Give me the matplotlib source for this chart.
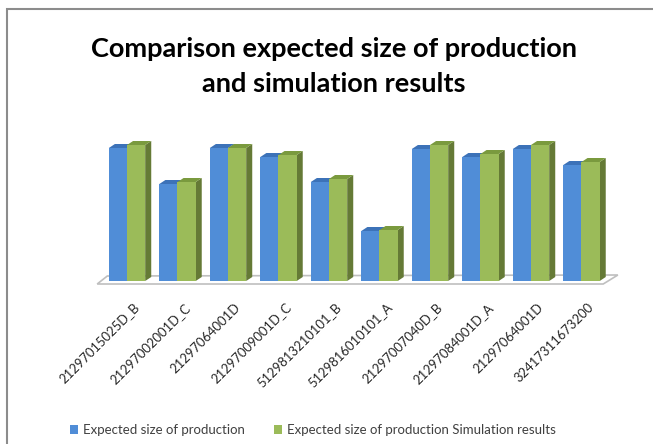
import numpy as np
import matplotlib.pyplot as plt
from matplotlib.patches import Polygon, Rectangle, Patch

plt.rcParams['font.family'] = ['Lato', 'DejaVu Sans']

# Datos por referencia de producto
referencias = ['21297015025D_B', '21297002001D_C', '21297064001D', '21297009001D_C',
               '5129813210101_B', '5129816010101_A', '21297007040D_B', '21297084001D_A',
               '21297064001D', '32417311673200']
esperado = [133, 97, 133, 124, 99, 50, 132, 124, 132, 116]
simulado = [136, 99, 133, 126, 102, 51, 136, 127, 136, 119]

series = ['Expected size of production', 'Expected size of production Simulation results']

W, H = 653, 444
fig = plt.figure(figsize=(W / 100, H / 100), dpi=100)

# marco gris del gráfico
fig.add_artist(Rectangle((7 / W, -0.05), 1.1, (H - 9) / H + 0.05, transform=fig.transFigure,
                         fill=False, edgecolor='#8c8c8c', linewidth=1.5))

# ejes: 1 unidad x = 50.5 px, 1 unidad y = 1 px
x_min, x_max = -0.8, 9.9
y_min, y_max = -40, 160
ax_left = 127 + 50.5 * x_min
ax_width = 50.5 * (x_max - x_min)
ax_bottom = (H - 281) + y_min
ax = fig.add_axes([ax_left / W, ax_bottom / H, ax_width / W, (y_max - y_min) / H])
ax.set_xlim(x_min, x_max)
ax.set_ylim(y_min, y_max)
ax.axis('off')

w = 0.36          # ancho de cada barra
dx, dy = 0.12, 4  # profundidad del efecto 3D

# suelo
piso = Polygon([(-0.59, -3), (-0.39, 5), (9.72, 6), (9.43, -3)], closed=True,
               facecolor='white', edgecolor='#bfbfbf', linewidth=1.2, zorder=1)
ax.add_patch(piso)


def barra3d(x0, h, frente, lado, tapa):
    x1 = x0 + w
    ax.add_patch(Polygon([(x1, 0), (x1, h), (x1 + dx, h + dy), (x1 + dx, dy)],
                         closed=True, facecolor=lado, edgecolor='none', zorder=2))
    ax.add_patch(Polygon([(x0, h), (x1, h), (x1 + dx, h + dy), (x0 + dx, h + dy)],
                         closed=True, facecolor=tapa, edgecolor='none', zorder=2))
    ax.bar(x0, h, width=w, align='edge', color=frente, edgecolor='none', zorder=2)


for i in range(len(referencias)):
    barra3d(i - w, esperado[i], '#508dd7', '#3a68a8', '#3c72b8')
    barra3d(i, simulado[i], '#9bbb59', '#657a36', '#7a9a3e')

# etiquetas de categoría giradas
for i, ref in enumerate(referencias):
    ax.text(i + 0.12, -20, ref, rotation=45, ha='right', va='top',
            rotation_mode='anchor', fontsize=9.4, color='#262626')

# título
fig.text(334 / W, 1 - 57 / H, 'Comparison expected size of production',
         ha='center', va='baseline', fontsize=19.5, fontweight='bold', color='black')
fig.text(334 / W, 1 - 92 / H, 'and simulation results',
         ha='center', va='baseline', fontsize=19.5, fontweight='bold', color='black')

# leyenda
handles = [Patch(facecolor='#508dd7'), Patch(facecolor='#9bbb59')]
fig.legend(handles, series, loc='center', bbox_to_anchor=(313 / W, 1 - 430 / H),
           ncol=2, frameon=False, fontsize=9.5, handlelength=0.6, handleheight=0.6,
           handletextpad=0.4, columnspacing=2.2, labelcolor='#404040')

fig.savefig('out.png', dpi=100)
